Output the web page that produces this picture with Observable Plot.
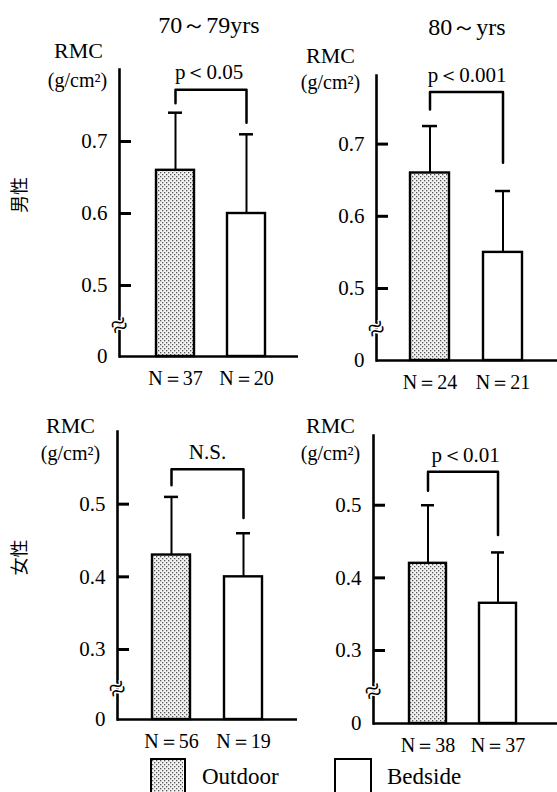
<!DOCTYPE html>
<html><head><meta charset="utf-8">
<script src="https://cdn.jsdelivr.net/npm/d3@7"></script>
<script src="https://cdn.jsdelivr.net/npm/@observablehq/plot@0.6"></script>
<style>
body{margin:0;background:#fff;}
#wrap{position:relative;width:557px;height:792px;overflow:hidden;background:#fff;}
#wrap .panel{position:absolute;left:0;top:0;}
.lg{position:absolute;font-family:"Liberation Serif",serif;font-size:23px;line-height:26px;color:#000;}
.box{position:absolute;border:2.5px solid #000;box-sizing:border-box;background:#fff;}
</style></head><body>
<svg width="0" height="0" style="position:absolute">
<defs><pattern id="dots" width="4" height="4" patternUnits="userSpaceOnUse">
<rect width="4" height="4" fill="#f2f2f2"/><rect x="0" y="0" width="1.3" height="1.3" fill="#555"/><rect x="2" y="2" width="1.3" height="1.3" fill="#555"/></pattern></defs></svg>
<div id="wrap"></div>
<script>
// ---- data ----
const groups = ["Outdoor", "Bedside"];
const sexes = ["男性", "女性"];
const ages = ["70～79yrs", "80～yrs"];
// panel order: 男性 70～79, 男性 80～, 女性 70～79, 女性 80～
const meanOutdoor = [0.66, 0.66, 0.43, 0.42];
const meanBedside = [0.60, 0.55, 0.40, 0.365];
const sdOutdoor = [0.08, 0.065, 0.08, 0.08];
const sdBedside = [0.11, 0.085, 0.06, 0.07];
const nOutdoor = [37, 24, 56, 38];
const nBedside = [20, 21, 19, 37];
const pLabels = ["p＜0.05", "p＜0.001", "N.S.", "p＜0.01"];
const bracketTop = [0.772, 0.772, 0.548, 0.546];
const bracketLeft = [0.753, 0.748, 0.526, 0.520];
const bracketRight = [0.726, 0.674, 0.481, 0.459];
const maleTicks = [0, 0.5, 0.6, 0.7];
const femaleTicks = [0, 0.3, 0.4, 0.5];
const yTop = [0.8, 0.795, 0.6, 0.596];

// ---- layout (pixels) ----
const W = 557, H = 792;
const layout = [
  {axisX: 119, right: 298, y0: 356, y1: 285, top: 69, bars: [155, 265], title: 25, rmc: [78, 50], unit: [77, 80]},
  {axisX: 376, right: 557, y0: 360, y1: 288, top: 75, bars: [410, 522], title: 27, rmc: [330, 55], unit: [330, 82]},
  {axisX: 117, right: 297, y0: 719, y1: 649, top: 431, bars: [152, 263], rmc: [70, 425], unit: [70, 453]},
  {axisX: 373, right: 557, y0: 723, y1: 650, top: 435, bars: [409, 517], rmc: [330, 425], unit: [330, 453]}
];
const serif = '"Liberation Serif", serif';
const fmt = d => d === 0 ? "0" : d.toFixed(1);

function panel(i) {
  const L = layout[i];
  const rows = [
    {group: groups[0], mean: meanOutdoor[i], sd: sdOutdoor[i], n: nOutdoor[i]},
    {group: groups[1], mean: meanBedside[i], sd: sdBedside[i], n: nBedside[i]}
  ];
  const bracket = [
    {group: groups[0], y: bracketLeft[i]}, {group: groups[0], y: bracketTop[i]},
    {group: groups[1], y: bracketTop[i]}, {group: groups[1], y: bracketRight[i]}
  ];
  const ticks = i < 2 ? maleTicks : femaleTicks;
  const brk = ticks[1] * 0.44;
  const fw = L.right - L.axisX;
  const marks = [
    Plot.barY(rows.filter(d => d.group === "Outdoor"), {x: "group", y: "mean", fill: "url(#dots)", stroke: "black", strokeWidth: 2.4}),
    Plot.barY(rows.filter(d => d.group === "Bedside"), {x: "group", y: "mean", fill: "white", stroke: "black", strokeWidth: 2.4}),
    Plot.ruleX(rows, {x: "group", y1: "mean", y2: d => d.mean + d.sd, stroke: "black", strokeWidth: 2}),
    Plot.tickY(rows, {x: "group", y: d => d.mean + d.sd, insetLeft: 12, insetRight: 12, stroke: "black", strokeWidth: 2.5}),
    Plot.line(bracket, {x: "group", y: "y", stroke: "black", strokeWidth: 2.5}),
    Plot.text([pLabels[i]], {y: () => bracketTop[i], frameAnchor: "middle", dy: -17, text: d => d, fontSize: 21}),
    Plot.frame({anchor: "left", stroke: "black", strokeWidth: 2.6}),
    Plot.ruleY([0], {stroke: "black", strokeWidth: 2.6}),
    Plot.tickY(ticks.slice(1), {y: d => d, insetRight: fw - 12, stroke: "black", strokeWidth: 3}),
    Plot.axisY(ticks, {tickSize: 0, tickPadding: 12, tickFormat: fmt, fontSize: 21}),
    Plot.text([brk], {y: d => d, frameAnchor: "left", text: () => "≈", textAnchor: "middle", fontSize: 30, rotate: -25, stroke: "white", strokeWidth: 3, fill: "black"}),
    Plot.text(rows, {x: "group", y: () => 0, dy: 22, text: d => `N＝${d.n}`, fontSize: 20}),
    Plot.text(["RMC"], {frameAnchor: "top-left", dx: L.rmc[0] - L.axisX, dy: L.rmc[1] - L.top, text: d => d, textAnchor: "middle", lineAnchor: "middle", fontSize: 22}),
    Plot.text(["(g/cm²)"], {frameAnchor: "top-left", dx: L.unit[0] - L.axisX, dy: L.unit[1] - L.top, text: d => d, textAnchor: "middle", lineAnchor: "middle", fontSize: 20})
  ];
  if (i < 2) marks.push(Plot.text([ages[i]], {frameAnchor: "top", dy: L.title - L.top, text: d => d, lineAnchor: "middle", fontSize: 24}));
  if (i % 2 === 0) marks.push(Plot.text([sexes[i >> 1]], {frameAnchor: "left", dx: 20 - L.axisX, text: d => d, rotate: -90, fontSize: 18, fontFamily: "Noto Sans CJK JP"}));
  return Plot.plot({
    width: W, height: H,
    marginLeft: L.axisX, marginRight: W - L.right, marginTop: L.top, marginBottom: H - L.y0,
    x: {type: "band", domain: groups, range: L.bars, paddingInner: 0.47, paddingOuter: 0, axis: null},
    y: {type: "linear", domain: [0, ticks[1], yTop[i]], range: [L.y0, L.y1, L.top]},
    style: {background: "transparent", overflow: "visible", fontFamily: serif, color: "black"},
    marks
  });
}

const wrap = document.getElementById("wrap");
for (let i = 0; i < 4; i++) {
  const div = document.createElement("div");
  div.className = "panel";
  div.appendChild(panel(i));
  wrap.appendChild(div);
}
// legend
function legendItem(label, boxLeft, boxW, textLeft, pattern) {
  const b = document.createElement("div");
  b.className = "box";
  b.style.cssText = `left:${boxLeft}px;top:758px;width:${boxW}px;height:40px;`;
  if (pattern) b.innerHTML = `<svg width="${boxW - 5}" height="35" style="display:block"><rect width="${boxW - 5}" height="35" fill="url(#dots)"/></svg>`;
  wrap.appendChild(b);
  const t = document.createElement("div");
  t.className = "lg";
  t.style.cssText = `left:${textLeft}px;top:764px;`;
  t.textContent = label;
  wrap.appendChild(t);
}
legendItem(groups[0], 150, 36, 202, true);
legendItem(groups[1], 334, 38, 387, false);
</script>
</body></html>
